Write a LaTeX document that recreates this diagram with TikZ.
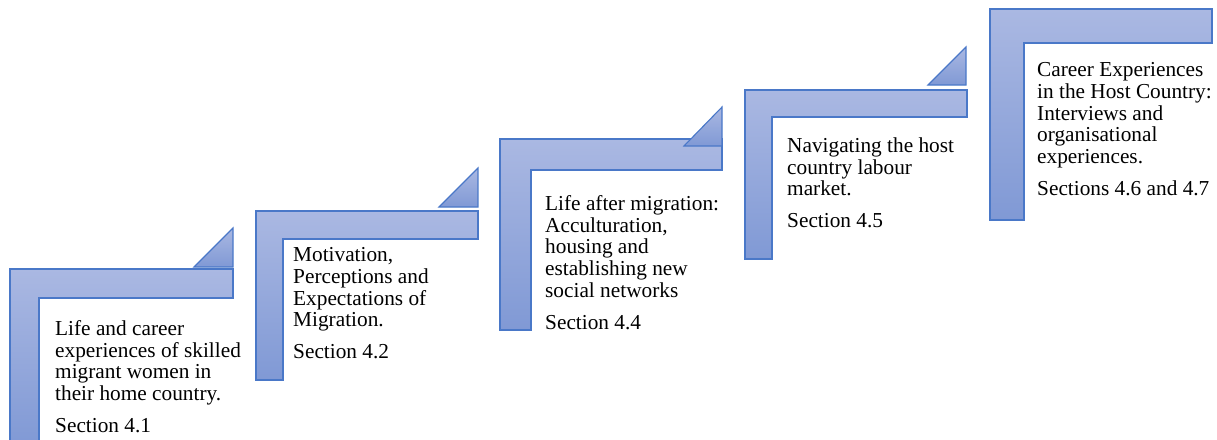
\documentclass[tikz,border=0pt]{standalone}
\usepackage{fontspec}
\setmainfont{Liberation Serif}
\definecolor{stepline}{HTML}{4A78C8}
\definecolor{steptop}{HTML}{AAB8E2}
\definecolor{stepbot}{HTML}{8099D5}
\begin{document}
\begin{tikzpicture}[x=1pt,y=-1pt,
  stepshape/.style={draw=stepline, line width=1.1pt, top color=steptop, bottom color=stepbot, line join=miter},
  steptext/.style={anchor=north west, inner sep=0pt, align=left,
    font=\fontsize{21.3}{21.6}\selectfont, text=black},
]
\clip (0,0) rectangle (1217,439);
\useasboundingbox (0,0) rectangle (1217,439);

% step 1
\path[stepshape] (10,269) -- (233,269) -- (233,298) -- (39,298) -- (39,446) -- (10,446) -- cycle;
\path[stepshape] (194,267) -- (233,267) -- (233,228) -- cycle;
\node[steptext] (s1) at (55,320.5) {Life and career\\experiences of skilled\\migrant women in\\their home country.\\[10.4pt]Section 4.1};

% step 2
\path[stepshape] (256,211) -- (478,211) -- (478,239) -- (283,239) -- (283,380) -- (256,380) -- cycle;
\path[stepshape] (439,207) -- (478,207) -- (478,168) -- cycle;
\node[steptext] (s2) at (293,247.5) {Motivation,\\Perceptions and\\Expectations of\\Migration.\\[10.4pt]Section 4.2};

% step 3
\path[stepshape] (500,139) -- (722,139) -- (722,170) -- (531,170) -- (531,330) -- (500,330) -- cycle;
\path[stepshape] (684,146) -- (722,146) -- (722,107) -- cycle;
\node[steptext] (s3) at (545,195.5) {Life after migration:\\Acculturation,\\housing and\\establishing new\\social networks\\[10.4pt]Section 4.4};

% step 4
\path[stepshape] (745,90) -- (967,90) -- (967,117) -- (772,117) -- (772,259) -- (745,259) -- cycle;
\path[stepshape] (928,85) -- (966,85) -- (966,47) -- cycle;
\node[steptext] (s4) at (787,137.5) {Navigating the host\\country labour\\market.\\[10.4pt]Section 4.5};

% step 5
\path[stepshape] (990,9) -- (1212,9) -- (1212,43) -- (1024,43) -- (1024,220) -- (990,220) -- cycle;
\node[steptext] (s5) at (1037,62.5) {Career Experiences\\in the Host Country:\\Interviews and\\organisational\\experiences.\\[10.4pt]Sections 4.6 and 4.7};
\end{tikzpicture}
\end{document}
